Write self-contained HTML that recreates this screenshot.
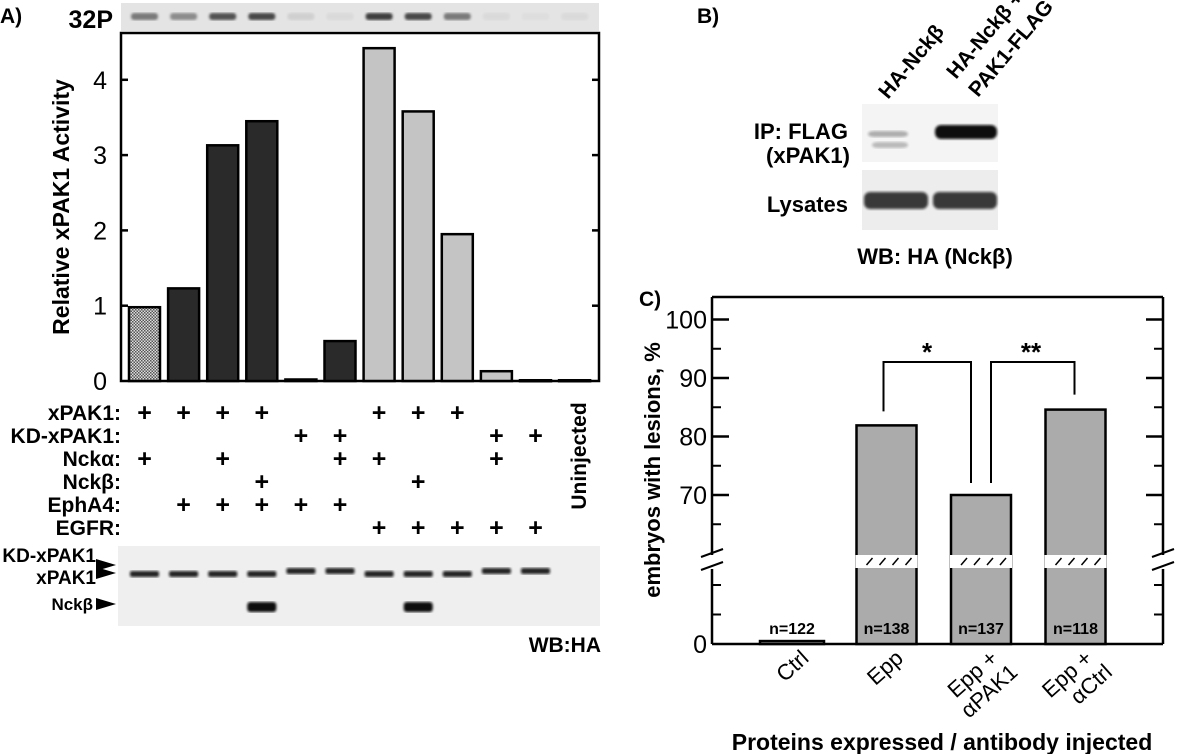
<!DOCTYPE html>
<html><head><meta charset="utf-8"><style>
html,body{margin:0;padding:0;background:#fff;}
svg{display:block;font-family:"Liberation Sans",sans-serif;}
.b{font-weight:bold;}
</style></head><body>
<svg id="fig" width="1178" height="754" viewBox="0 0 1178 754" xmlns="http://www.w3.org/2000/svg">
<defs>
<pattern id="chk" width="3" height="3" patternUnits="userSpaceOnUse"><rect width="3" height="3" fill="#ddd"/><rect width="1.5" height="1.5" fill="#555"/><rect x="1.5" y="1.5" width="1.5" height="1.5" fill="#555"/></pattern>
<filter id="blur"><feGaussianBlur stdDeviation="1.4"/></filter>
</defs>
<g id="panelA"></g>
<g id="panelB"></g>
<g id="panelC"></g>
</svg>
<script>
// ---------- Panel A data ----------
const lanesA = [1,2,3,4,5,6,7,8,9,10,11,12];
const activityA = [0.98,1.23,3.13,3.45,0.02,0.53,4.42,3.58,1.95,0.13,0.01,0.01];
const styleA = ['chk','dark','dark','dark','dark','dark','light','light','light','light','light','light'];
const ticksA = [0,1,2,3,4];
const rowLabelsA = ['xPAK1:','KD-xPAK1:','Nckα:','Nckβ:','EphA4:','EGFR:'];
const rowPlusA = [[1,2,3,4,7,8,9],[5,6,10,11],[1,3,6,7,10],[4,8],[2,3,4,5,6],[7,8,9,10,11]];
const signalA = [0.55,0.45,0.75,0.8,0.1,0.05,0.85,0.8,0.55,0.05,0.03,0.05];
// ---------- Panel C data ----------
const catsC = ['Ctrl','Epp','Epp +|αPAK1','Epp +|αCtrl'];
const valsC = [1,81.9,70,84.6];
const nC = ['n=122','n=138','n=137','n=118'];
const ticksC = [70,80,90,100];

const NS='http://www.w3.org/2000/svg';
function mk(parent,tag,attrs,text){const e=document.createElementNS(NS,tag);for(const k in attrs)e.setAttribute(k,attrs[k]);if(text!==undefined)e.textContent=text;parent.appendChild(e);return e;}

// ===== Panel A =====
const A=document.getElementById('panelA');
const ax0=121, ax1=599, ay0=381, ayTop=33;
const yA=v=>ay0-v*75.3;
const xA=i=>129+(i-1)*39.1;
const bw=31;
let t;
t=mk(A,'text',{x:0,y:23,'font-size':21,class:'b'},'A)');

t=mk(A,'text',{x:113,y:28,'font-size':25,class:'b','text-anchor':'end'},'32P');

let r=mk(A,'rect',{x:ax0,y:3,width:ax1-ax0,height:28,fill:'#e4e4e4'});

lanesA.forEach((l,i)=>{const e=mk(A,'rect',{x:xA(l)+2,y:13,width:bw-4,height:7,rx:3,fill:'#222',opacity:signalA[i],filter:'url(#blur)'});
});
r=mk(A,'rect',{x:ax0,y:ayTop,width:ax1-ax0,height:ay0-ayTop,fill:'none',stroke:'#000','stroke-width':2.5});

ticksA.forEach(v=>{const y=yA(v);
 const tl=mk(A,'text',{x:107,y:y+9,'font-size':25,'text-anchor':'end'},String(v));
 
 if(v>0){[[ax1-7,ax1],[ax0,ax0+7]].forEach(([a,b])=>{const tk=mk(A,'line',{x1:a,x2:b,y1:y,y2:y,stroke:'#000','stroke-width':2.5});
 });}});
t=mk(A,'text',{x:0,y:0,'font-size':23,class:'b','text-anchor':'middle',transform:'translate(69,207) rotate(-90)'},'Relative xPAK1 Activity');

lanesA.forEach((l,i)=>{const v=activityA[i];const y=yA(v);
 const fill=styleA[i]==='chk'?'url(#chk)':styleA[i]==='dark'?'#2a2a2a':'#c4c4c4';
 const b=mk(A,'rect',{x:xA(l),y:y,width:bw,height:Math.max(ay0-y,1),fill:fill,stroke:'#000','stroke-width':2.5});
 });
const rowY=[412,435,458,481,504,527];
rowLabelsA.forEach((lab,ri)=>{const tl=mk(A,'text',{x:121,y:rowY[ri]+8,'font-size':21,class:'b','text-anchor':'end'},lab);
 
 rowPlusA[ri].forEach(l=>{const p=mk(A,'text',{x:xA(l)+bw/2,y:rowY[ri]+9,'font-size':25,class:'b','text-anchor':'middle'},'+');
 });});
t=mk(A,'text',{x:0,y:0,'font-size':21,class:'b','text-anchor':'middle',transform:'translate(586,456) rotate(-90)'},'Uninjected');

r=mk(A,'rect',{x:118,y:546,width:482,height:80,fill:'#efefef'});

lanesA.forEach((l,i)=>{if(l===12)return;const kd=rowPlusA[1].includes(l);
 const e=mk(A,'rect',{x:xA(l)+1,y:kd?568:571,width:bw-2,height:6,rx:2,fill:'#111',opacity:0.9,filter:'url(#blur)'});
 
 if(rowPlusA[3].includes(l)){const n=mk(A,'rect',{x:xA(l)+1,y:602,width:bw-2,height:10,rx:3,fill:'#111',filter:'url(#blur)'});
 }});
[['KD-xPAK1',96,562,19],['xPAK1',96,584,19],['Nckβ',93,610,17]].forEach(([s,x,y,f])=>{const tl=mk(A,'text',{x:x,y:y,'font-size':f,class:'b','text-anchor':'end'},s);
 });
[[565],[573],[604]].forEach(([y])=>{const p=mk(A,'polygon',{points:`${96},${y-6} ${116},${y} ${96},${y+6}`,fill:'#000'});
 });
t=mk(A,'text',{x:601,y:652,'font-size':21,class:'b','text-anchor':'end'},'WB:HA');


// ===== Panel B =====
const B=document.getElementById('panelB');
t=mk(B,'text',{x:697,y:23,'font-size':21,class:'b'},'B)');

t=mk(B,'text',{x:0,y:0,'font-size':21,class:'b',transform:'translate(888,100) rotate(-50)'},'HA-Nckβ');

t=mk(B,'text',{x:0,y:0,'font-size':21,class:'b',transform:'translate(956,80) rotate(-50)'},'HA-Nckβ +');

t=mk(B,'text',{x:0,y:0,'font-size':21,class:'b',transform:'translate(978,98) rotate(-50)'},'PAK1-FLAG');

r=mk(B,'rect',{x:862,y:104,width:136,height:58,fill:'#f4f4f4'});

r=mk(B,'rect',{x:862,y:170,width:136,height:60,fill:'#ededed'});

[[868,131,40,6,0.3],[872,142,36,6,0.25],[935,125,62,14,1],[864,192,64,17,0.8],[933,192,64,17,0.8]].forEach(([x,y,w,h,o])=>{
 const e=mk(B,'rect',{x:x,y:y,width:w,height:h,rx:6,fill:'#111',opacity:o,filter:'url(#blur)'});
 });
[['IP: FLAG',848,139],['(xPAK1)',850,163],['Lysates',848,212]].forEach(([s,x,y])=>{const tl=mk(B,'text',{x:x,y:y,'font-size':22,class:'b','text-anchor':'end'},s);
 });
t=mk(B,'text',{x:935,y:264,'font-size':22,class:'b','text-anchor':'middle'},'WB: HA (Nckβ)');


// ===== Panel C =====
const C=document.getElementById('panelC');
const cx0=712,cx1=1163,cTop=297,cZero=644;
const yC=v=>v<=30?cZero-v*2.95:495-(v-70)*5.85;
const xC=i=>792+i*94.5;
t=mk(C,'text',{x:639,y:306,'font-size':21,class:'b'},'C)');

[[cx0,cTop,cx1,cTop],[cx0,cZero,cx1,cZero],[cx0,cTop,cx0,555],[cx0,569,cx0,cZero],[cx1,cTop,cx1,555],[cx1,569,cx1,cZero]].forEach(([a,b,c,d])=>{
 const l=mk(C,'line',{x1:a,y1:b,x2:c,y2:d,stroke:'#000','stroke-width':2.5});
 });
[[cx0],[cx1]].forEach(([x])=>{[553,566].forEach(y=>{const l=mk(C,'line',{x1:x-11,y1:y+4,x2:x+11,y2:y-4,stroke:'#000','stroke-width':2});
 });});
ticksC.forEach(v=>{const y=yC(v);
 const tl=mk(C,'text',{x:707,y:y+9,'font-size':25,'text-anchor':'end'},String(v));
 
 [[cx0,cx0+17],[cx1-17,cx1]].forEach(([a,b])=>{const l=mk(C,'line',{x1:a,x2:b,y1:y,y2:y,stroke:'#000','stroke-width':2.5});
 });
 const ym=yC(v-5);[[cx0,cx0+9],[cx1-9,cx1]].forEach(([a,b])=>{const l=mk(C,'line',{x1:a,x2:b,y1:ym,y2:ym,stroke:'#000','stroke-width':2});
 });});
[10,20].forEach(v=>{const y=yC(v);[[cx0,cx0+9],[cx1-9,cx1]].forEach(([a,b])=>{const l=mk(C,'line',{x1:a,x2:b,y1:y,y2:y,stroke:'#000','stroke-width':2});
 });});
t=mk(C,'text',{x:707,y:yC(0)+9,'font-size':25,'text-anchor':'end'},'0');

t=mk(C,'text',{x:0,y:0,'font-size':22,class:'b','text-anchor':'middle',transform:'translate(660,470) rotate(-90)'},'embryos with lesions, %');

catsC.forEach((c,i)=>{const v=valsC[i];const y=yC(v);const w=i===0?64:60;const x=xC(i)-w/2;
 const b=mk(C,'rect',{x:x,y:y,width:w,height:cZero-y,fill:'#ababab',stroke:'#000','stroke-width':2.5});
 
 if(v>30){const wb=mk(C,'rect',{x:x-1,y:555,width:w+2,height:13,fill:'#fff'});
  
  for(let k=0;k<4;k++){const h=mk(C,'line',{x1:x+10+k*13,y1:565,x2:x+16+k*13,y2:558,stroke:'#000','stroke-width':1.5});
  }}
 const nl=mk(C,'text',{x:xC(i),y:634,'font-size':16,class:'b','text-anchor':'middle'},nC[i]);
 
 const parts=c.split('|');
 parts.forEach((p,j)=>{const xl=mk(C,'text',{x:0,y:0,'font-size':22,'text-anchor':'end',transform:`translate(${xC(i)+18+j*20},${660+j*14}) rotate(-42)`},p);
 });});
function bracket(xa,ya,xb,yb,top,label,lx){const p=mk(C,'polyline',{points:`${xa},${ya} ${xa},${top} ${xb},${top} ${xb},${yb}`,fill:'none',stroke:'#000','stroke-width':2});
 
 const s=mk(C,'text',{x:lx,y:top-1,'font-size':26,class:'b','text-anchor':'middle'},label);
 }
bracket(xC(1)-3,yC(valsC[1])-14,xC(2)-10,yC(valsC[2])-12,362,'*',927);
bracket(xC(2)+10,yC(valsC[2])-12,xC(3)-1,yC(valsC[3])-15,362,'**',1031);
t=mk(C,'text',{x:942,y:750,'font-size':23,class:'b','text-anchor':'middle'},'Proteins expressed / antibody injected');

</script>
</body></html>
